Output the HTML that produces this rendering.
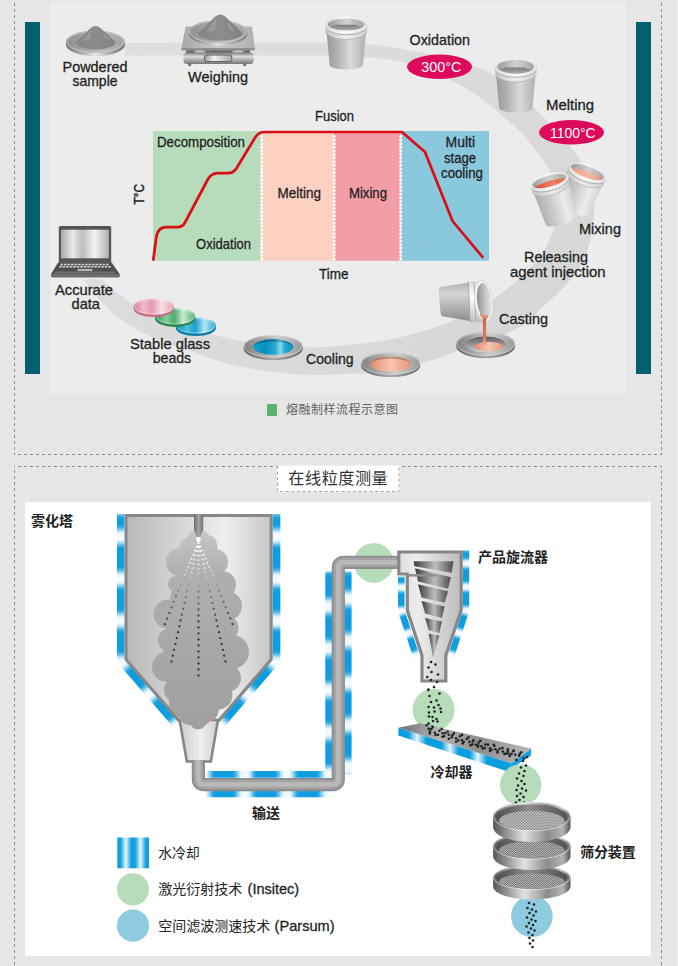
<!DOCTYPE html>
<html lang="zh"><head><meta charset="utf-8"><title>熔融制样流程示意图 / 在线粒度测量</title>
<style>
html,body{margin:0;padding:0}
body{width:678px;height:966px;overflow:hidden;background:#e6e6e6;position:relative;font-family:"Liberation Sans", "Noto Sans CJK SC", sans-serif;}
svg{position:absolute;left:0;top:0}
text{font-family:"Liberation Sans", "Noto Sans CJK SC", sans-serif;}
</style></head><body>
<svg width="678" height="966" viewBox="0 0 678 966">
<defs>

<linearGradient id="gMetalH" x1="0" x2="1" y1="0" y2="0"><stop offset="0" stop-color="#989898"/><stop offset=".3" stop-color="#b4b4b4"/><stop offset=".6" stop-color="#dadada"/><stop offset="1" stop-color="#adadad"/></linearGradient>
<linearGradient id="gMetalL" x1="0" x2="1" y1="0" y2="0"><stop offset="0" stop-color="#adadad"/><stop offset=".35" stop-color="#c9c9c9"/><stop offset=".72" stop-color="#ececec"/><stop offset="1" stop-color="#d2d2d2"/></linearGradient>
<linearGradient id="gRim2" x1="0" x2="1" y1="0" y2="0"><stop offset="0" stop-color="#c4c4c4"/><stop offset=".5" stop-color="#efefef"/><stop offset="1" stop-color="#cdcdcd"/></linearGradient>
<linearGradient id="gContent" x1="0" x2="0" y1="0" y2="1"><stop offset="0" stop-color="#7a7a7a"/><stop offset="1" stop-color="#adadad"/></linearGradient>
<linearGradient id="gOrange2" x1="0" x2="1" y1="0" y2="0"><stop offset="0" stop-color="#ec9f88"/><stop offset=".6" stop-color="#f3b9a4"/><stop offset="1" stop-color="#e8907a"/></linearGradient>
<linearGradient id="gRim" x1="0" x2="1" y1="0" y2="0"><stop offset="0" stop-color="#dadada"/><stop offset=".45" stop-color="#fafafa"/><stop offset="1" stop-color="#e2e2e2"/></linearGradient>
<linearGradient id="gInside" x1="0" x2="1" y1="0" y2="0"><stop offset="0" stop-color="#9a9a9a"/><stop offset=".5" stop-color="#d2d2d2"/><stop offset="1" stop-color="#a5a5a5"/></linearGradient>
<linearGradient id="gPlate" x1="0" x2="1" y1="0" y2="0"><stop offset="0" stop-color="#8e8e8e"/><stop offset=".6" stop-color="#b9b9b9"/><stop offset="1" stop-color="#a2a2a2"/></linearGradient>
<linearGradient id="gPlateEdge" x1="0" x2="1" y1="0" y2="0"><stop offset="0" stop-color="#707070"/><stop offset=".5" stop-color="#e6e6e6"/><stop offset="1" stop-color="#6e6e6e"/></linearGradient>
<linearGradient id="gRing" x1="0" x2="1" y1="0" y2="0"><stop offset="0" stop-color="#808080"/><stop offset=".3" stop-color="#a8a8a8"/><stop offset=".6" stop-color="#cdcdcd"/><stop offset="1" stop-color="#989898"/></linearGradient>
<linearGradient id="gRingEdge" x1="0" x2="1" y1="0" y2="0"><stop offset="0" stop-color="#626262"/><stop offset=".5" stop-color="#a8a8a8"/><stop offset="1" stop-color="#666"/></linearGradient>
<linearGradient id="gHole" x1="0" x2="0" y1="0" y2="1"><stop offset="0" stop-color="#5c5c5c"/><stop offset=".55" stop-color="#9a9a9a"/><stop offset="1" stop-color="#d2d2d2"/></linearGradient>
<linearGradient id="gBlueLiq" x1="0" x2="1" y1="0" y2="0"><stop offset="0" stop-color="#0f9fca"/><stop offset=".3" stop-color="#0a8fbb"/><stop offset=".55" stop-color="#25aad2"/><stop offset=".68" stop-color="#86dbef"/><stop offset=".8" stop-color="#22a8d1"/><stop offset="1" stop-color="#1192bd"/></linearGradient>
<linearGradient id="gPinkLiq" x1="0" x2="1" y1="0" y2="0"><stop offset="0" stop-color="#e48b70"/><stop offset=".5" stop-color="#f7c6b3"/><stop offset="1" stop-color="#e6937a"/></linearGradient>
<linearGradient id="gOrange" x1="0" x2="1" y1="0" y2="0"><stop offset="0" stop-color="#dd4f33"/><stop offset=".6" stop-color="#ec8265"/><stop offset="1" stop-color="#e3603f"/></linearGradient>
<linearGradient id="gBeadP" x1="0" x2="1" y1="0" y2="0"><stop offset="0" stop-color="#d67c95"/><stop offset=".25" stop-color="#f0bac8"/><stop offset=".45" stop-color="#e59ab0"/><stop offset=".7" stop-color="#fbe0e7"/><stop offset="1" stop-color="#e39ab0"/></linearGradient>
<linearGradient id="gBeadG" x1="0" x2="1" y1="0" y2="0"><stop offset="0" stop-color="#36955a"/><stop offset=".28" stop-color="#86cb98"/><stop offset=".48" stop-color="#4aab68"/><stop offset=".7" stop-color="#c9ebd4"/><stop offset="1" stop-color="#52b06f"/></linearGradient>
<linearGradient id="gBeadB" x1="0" x2="1" y1="0" y2="0"><stop offset="0" stop-color="#0d8bb9"/><stop offset=".28" stop-color="#4fbfdf"/><stop offset=".48" stop-color="#1a9dc8"/><stop offset=".72" stop-color="#b2e6f5"/><stop offset="1" stop-color="#259fca"/></linearGradient>
<linearGradient id="gScreen" x1="0" x2="1" y1="0" y2="0"><stop offset="0" stop-color="#a8a8a8"/><stop offset=".25" stop-color="#e9e9e9"/><stop offset=".45" stop-color="#bdbdbd"/><stop offset=".7" stop-color="#f4f4f4"/><stop offset="1" stop-color="#b0b0b0"/></linearGradient>
<linearGradient id="gScaleTop" x1="0" x2="1" y1="0" y2="0"><stop offset="0" stop-color="#a8a8a8"/><stop offset=".5" stop-color="#cacaca"/><stop offset="1" stop-color="#b0b0b0"/></linearGradient>
<linearGradient id="gDisp" x1="0" x2="1" y1="0" y2="0"><stop offset="0" stop-color="#9a9a9a"/><stop offset=".35" stop-color="#f2f2f2"/><stop offset="1" stop-color="#a8a8a8"/></linearGradient>
<linearGradient id="gScaleBase" x1="0" x2="0" y1="0" y2="1"><stop offset="0" stop-color="#7d7d7d"/><stop offset=".35" stop-color="#dcdcdc"/><stop offset="1" stop-color="#777"/></linearGradient>
<linearGradient id="gPowder" x1="0" x2="1" y1="0" y2="0"><stop offset="0" stop-color="#858585"/><stop offset=".5" stop-color="#8c8c8c"/><stop offset="1" stop-color="#808080"/></linearGradient>
<linearGradient id="gBand" x1="0" x2="1" y1="0" y2="0"><stop offset="0" stop-color="#e2e2e2"/><stop offset=".5" stop-color="#dbdbdb"/><stop offset="1" stop-color="#d6d6d6"/></linearGradient>

<linearGradient id="gBandV" gradientUnits="userSpaceOnUse" x1="100" y1="42" x2="500" y2="375"><stop offset="0" stop-color="#dfdfdf"/><stop offset="1" stop-color="#d7d7d7"/></linearGradient>
<linearGradient id="gPourBody" x1="0" x2="0" y1="0" y2="1"><stop offset="0" stop-color="#b0b0b0"/><stop offset=".3" stop-color="#d6d6d6"/><stop offset="1" stop-color="#8e8e8e"/></linearGradient>
<linearGradient id="gPourRim" x1="0" x2="0" y1="0" y2="1"><stop offset="0" stop-color="#dcdcdc"/><stop offset=".4" stop-color="#fff"/><stop offset="1" stop-color="#bdbdbd"/></linearGradient>
<linearGradient id="gStream" x1="0" x2="0" y1="0" y2="1"><stop offset="0" stop-color="#cf6248"/><stop offset=".7" stop-color="#d9775e"/><stop offset="1" stop-color="#eca590"/></linearGradient>
<linearGradient id="gPourIn" x1="0" x2="1" y1="0" y2="0.25"><stop offset="0" stop-color="#858585"/><stop offset=".55" stop-color="#bcbcbc"/><stop offset="1" stop-color="#e2e2e2"/></linearGradient>

<linearGradient id="gTower" x1="0" x2="1" y1="0" y2="0"><stop offset="0" stop-color="#b8b8b8"/><stop offset=".35" stop-color="#d4d4d4"/><stop offset=".68" stop-color="#efefef"/><stop offset="1" stop-color="#c6c6c6"/></linearGradient>
<linearGradient id="gFunnel" x1="0" x2="1" y1="0" y2="0"><stop offset="0" stop-color="#c9c9c9"/><stop offset=".55" stop-color="#f0f0f0"/><stop offset="1" stop-color="#cfcfcf"/></linearGradient>
<linearGradient id="gCloud" x1="0" x2="0" y1="0" y2="1"><stop offset="0" stop-color="#c2c2c2"/><stop offset=".3" stop-color="#b0b0b0"/><stop offset="1" stop-color="#a2a2a2"/></linearGradient>
<linearGradient id="gNozzle" x1="0" x2="1" y1="0" y2="0"><stop offset="0" stop-color="#6a6a6a"/><stop offset=".5" stop-color="#a5a5a5"/><stop offset="1" stop-color="#707070"/></linearGradient>
<linearGradient id="gCyc" x1="0" x2="1" y1="0" y2="0"><stop offset="0" stop-color="#dedede"/><stop offset=".3" stop-color="#ededed"/><stop offset="1" stop-color="#bcbcbc"/></linearGradient>
<linearGradient id="gCone" x1="0" x2="1" y1="0" y2="0"><stop offset="0" stop-color="#3a3a3a"/><stop offset=".55" stop-color="#bdbdbd"/><stop offset="1" stop-color="#4c4c4c"/></linearGradient>
<linearGradient id="gCoolTop" x1="0" x2="1" y1="0" y2="0"><stop offset="0" stop-color="#6e6e6e"/><stop offset=".3" stop-color="#b4b4b4"/><stop offset=".6" stop-color="#8e8e8e"/><stop offset="1" stop-color="#b6b6b6"/></linearGradient>
<linearGradient id="gSieveBand" x1="0" x2="1" y1="0" y2="0"><stop offset="0" stop-color="#585858"/><stop offset=".15" stop-color="#8a8a8a"/><stop offset=".4" stop-color="#e2e2e2"/><stop offset=".7" stop-color="#8c8c8c"/><stop offset=".9" stop-color="#b4b4b4"/><stop offset="1" stop-color="#565656"/></linearGradient>
<linearGradient id="gSieveIn" x1="0" x2="1" y1="0" y2="0"><stop offset="0" stop-color="#4c4c4c"/><stop offset=".45" stop-color="#8c8c8c"/><stop offset="1" stop-color="#505050"/></linearGradient>
<linearGradient id="gLegend" x1="0" x2="1" y1="0" y2="0"><stop offset="0" stop-color="#129fe0"/><stop offset=".1" stop-color="#129fe0"/><stop offset=".27" stop-color="#e9f6fd"/><stop offset=".44" stop-color="#129fe0"/><stop offset=".56" stop-color="#129fe0"/><stop offset=".73" stop-color="#e9f6fd"/><stop offset=".9" stop-color="#129fe0"/><stop offset="1" stop-color="#129fe0"/></linearGradient>
<filter id="fBlur" x="-5%" y="-5%" width="110%" height="110%"><feGaussianBlur stdDeviation="1.6"/></filter>
<pattern id="pMesh" width="3.1" height="2.8" patternUnits="userSpaceOnUse"><rect width="3.1" height="2.8" fill="#d2d2d2"/><circle cx=".8" cy=".7" r=".68" fill="#4f4f4f"/><circle cx="2.35" cy="2.1" r=".68" fill="#4f4f4f"/></pattern>
<pattern id="pMesh2" width="2.3" height="2" patternUnits="userSpaceOnUse"><rect width="2.3" height="2" fill="#c2c2c2"/><circle cx=".6" cy=".5" r=".55" fill="#505050"/><circle cx="1.75" cy="1.5" r=".55" fill="#505050"/></pattern>

<filter id="fBlurS" filterUnits="userSpaceOnUse" x="0" y="480" width="678" height="486"><feGaussianBlur stdDeviation="2.7"/></filter><filter id="fBlurC" filterUnits="userSpaceOnUse" x="0" y="480" width="678" height="486"><feGaussianBlur stdDeviation="1.7"/></filter>
<mask id="mw1" maskUnits="userSpaceOnUse" x="0" y="480" width="678" height="486"><rect x="0" y="480" width="678" height="486" fill="#000"/><path d="M120.7,514 L120.7,660.5 L175.5,724" fill="none" stroke="#fff" stroke-width="7.5"/></mask>
<mask id="mw2" maskUnits="userSpaceOnUse" x="0" y="480" width="678" height="486"><rect x="0" y="480" width="678" height="486" fill="#000"/><path d="M276.6,514 L276.6,660.5 L221.8,724" fill="none" stroke="#fff" stroke-width="7.5"/></mask>
<clipPath id="cTower"><path d="M127.5,517 L269.7,517 L269.7,659 L217.6,719.5 L213,760 L185,760 L180,719.5 L127.5,659 Z"/></clipPath>
<linearGradient id="gCloudU" gradientUnits="userSpaceOnUse" x1="0" y1="530" x2="0" y2="735"><stop offset="0" stop-color="#c6c6c6"/><stop offset=".22" stop-color="#afafaf"/><stop offset="1" stop-color="#9f9f9f"/></linearGradient>
<linearGradient id="gSprayW" gradientUnits="userSpaceOnUse" x1="0" y1="540" x2="0" y2="584"><stop offset="0" stop-color="#fff" stop-opacity="1"/><stop offset=".55" stop-color="#fff" stop-opacity=".85"/><stop offset="1" stop-color="#fff" stop-opacity="0"/></linearGradient>
<linearGradient id="gSprayD" gradientUnits="userSpaceOnUse" x1="0" y1="578" x2="0" y2="625"><stop offset="0" stop-color="#505050" stop-opacity="0"/><stop offset=".35" stop-color="#4a4a4a" stop-opacity=".55"/><stop offset="1" stop-color="#343434" stop-opacity="1"/></linearGradient>
<mask id="mw3" maskUnits="userSpaceOnUse" x="0" y="480" width="678" height="486"><rect x="0" y="480" width="678" height="486" fill="#000"/><path d="M205.5,774.4 L328.7,774.4 L328.7,571.5" fill="none" stroke="#fff" stroke-width="6.8"/></mask>
<mask id="mw4" maskUnits="userSpaceOnUse" x="0" y="480" width="678" height="486"><rect x="0" y="480" width="678" height="486" fill="#000"/><path d="M205.5,794 L329.5,794" fill="none" stroke="#fff" stroke-width="6.4"/></mask>
<mask id="mw5" maskUnits="userSpaceOnUse" x="0" y="480" width="678" height="486"><rect x="0" y="480" width="678" height="486" fill="#000"/><path d="M348,571.5 L348,775" fill="none" stroke="#fff" stroke-width="7.2"/></mask>
<mask id="mw6" maskUnits="userSpaceOnUse" x="0" y="480" width="678" height="486"><rect x="0" y="480" width="678" height="486" fill="#000"/><path d="M466,550.3 L466,610.5 L450.5,658" fill="none" stroke="#fff" stroke-width="6.4"/></mask>
<mask id="mw7" maskUnits="userSpaceOnUse" x="0" y="480" width="678" height="486"><rect x="0" y="480" width="678" height="486" fill="#000"/><path d="M401.3,576.5 L401.3,611 L417,658" fill="none" stroke="#fff" stroke-width="6.6"/></mask>
<linearGradient id="gCoolFront" gradientUnits="userSpaceOnUse" x1="398" y1="0" x2="512" y2="0"><stop offset="0" stop-color="#0a9de0"/><stop offset=".09" stop-color="#0a9de0"/><stop offset=".167" stop-color="#e6f5fd"/><stop offset=".25" stop-color="#0a9de0"/><stop offset=".38" stop-color="#0a9de0"/><stop offset=".456" stop-color="#e6f5fd"/><stop offset=".53" stop-color="#0a9de0"/><stop offset=".63" stop-color="#0a9de0"/><stop offset=".7" stop-color="#e6f5fd"/><stop offset=".78" stop-color="#0a9de0"/><stop offset="1" stop-color="#0a9de0"/></linearGradient>
<clipPath id="cS877"><ellipse cx="531.8" cy="878.0" rx="35.7" ry="10.799999999999999"/></clipPath>
<clipPath id="cS846"><ellipse cx="531.8" cy="846.7" rx="35.7" ry="11.6"/></clipPath>
<clipPath id="cS816"><ellipse cx="531.8" cy="817.2" rx="35.7" ry="12.799999999999999"/></clipPath>
</defs>
<rect x="50" y="2" width="576" height="392" fill="#ececec"/>
<rect x="25" y="22" width="15" height="352" fill="#035f6e"/>
<rect x="636" y="22" width="15" height="352" fill="#035f6e"/>
<path d="M125,42.5 L330,42.5 C335.0,42.7 350.8,43.0 360.0,43.6 C369.2,44.2 378.3,45.2 385.0,46.0 C391.7,46.8 390.8,46.8 400.0,48.5 C409.2,50.2 430.0,54.3 440.0,56.5 C450.0,58.7 453.3,59.8 460.0,61.8 C466.7,63.8 474.7,66.5 480.0,68.5 C485.3,70.5 487.0,71.0 492.0,74.0 C497.0,77.0 502.8,80.7 510.0,86.5 C517.2,92.3 526.2,100.4 535.0,109.0 C543.8,117.6 555.0,128.7 563.0,138.0 C571.0,147.3 578.0,155.8 583.0,165.0 C588.0,174.2 591.2,185.0 593.0,193.0 C594.8,201.0 594.2,206.5 594.0,213.0 C593.8,219.5 593.0,226.2 592.0,232.0 C591.0,237.8 590.2,241.8 588.0,248.0 C585.8,254.2 582.8,262.2 578.5,269.0 C574.2,275.8 568.2,282.5 562.0,289.0 C555.8,295.5 546.3,302.8 541.0,308.0 C535.7,313.2 534.4,316.9 530.0,320.5 C525.6,324.1 522.1,326.2 514.6,329.8 C507.1,333.4 494.8,338.4 485.0,342.0 C475.2,345.6 463.5,349.0 456.0,351.6 C448.5,354.2 445.7,355.8 440.0,357.7 C434.3,359.6 427.9,361.3 421.7,363.0 C415.5,364.7 410.5,366.4 403.0,368.0 C395.5,369.6 385.5,371.9 376.5,372.8 C367.5,373.8 358.0,373.3 349.0,373.7 C340.0,374.1 331.5,374.9 322.7,375.0 C313.9,375.1 304.9,374.8 296.0,374.2 C287.1,373.6 278.4,372.8 269.6,371.6 C260.8,370.4 251.8,368.9 243.0,367.0 C234.2,365.1 225.3,363.1 216.5,360.4 C207.7,357.7 198.2,353.8 190.0,351.0 C181.8,348.2 175.3,346.6 167.4,343.5 C159.5,340.4 149.5,335.9 142.6,332.5 C135.7,329.1 131.2,326.4 126.0,323.0 C120.8,319.6 116.1,316.0 111.6,312.0 C107.1,308.0 103.8,304.4 99.2,299.0 C94.6,293.6 86.3,282.7 83.7,279.4 L101.3,279.4 C104.0,281.7 113.0,289.2 117.8,293.0 C122.6,296.8 124.8,298.8 130.2,302.0 C135.6,305.2 143.4,309.3 150.0,312.5 C156.6,315.7 163.3,318.4 170.0,321.0 C176.7,323.6 182.2,325.6 190.0,328.0 C197.8,330.4 207.7,333.0 216.5,335.2 C225.3,337.4 233.2,339.6 243.0,341.3 C252.8,343.0 264.4,344.5 275.0,345.5 C285.6,346.5 298.5,346.9 306.8,347.2 C315.1,347.4 317.8,347.4 325.0,347.0 C332.2,346.6 341.4,345.7 350.0,344.8 C358.6,343.9 367.7,343.2 376.5,341.8 C385.3,340.4 392.4,339.2 403.0,336.5 C413.6,333.8 428.8,329.7 440.0,325.8 C451.2,321.9 461.7,317.0 470.0,313.0 C478.3,309.0 484.5,305.5 490.0,302.0 C495.5,298.5 498.6,295.5 503.0,292.0 C507.4,288.5 511.2,285.9 516.5,281.0 C521.8,276.1 529.8,268.8 535.0,262.6 C540.2,256.4 544.4,249.8 547.5,244.0 C550.6,238.2 552.2,234.8 553.7,227.5 C555.2,220.2 556.5,207.8 556.5,200.0 C556.5,192.2 556.0,187.2 554.0,181.0 C552.0,174.8 549.8,170.2 544.6,162.5 C539.4,154.8 531.8,143.8 523.0,134.6 C514.2,125.3 500.8,114.3 492.0,107.0 C483.2,99.7 477.2,95.7 470.0,91.0 C462.8,86.3 456.9,83.0 448.6,79.0 C440.3,75.0 430.6,70.3 420.0,67.0 C409.4,63.7 400.0,60.9 385.0,59.0 C370.0,57.1 339.2,56.1 330.0,55.5 L125,55.5 Z" fill="url(#gBandV)"/>
<rect x="153" y="131" width="108.5" height="129.8" fill="#b7dcbb"/>
<rect x="261.5" y="131" width="72.5" height="129.8" fill="#fbd1c1"/>
<rect x="334" y="131" width="66.5" height="129.8" fill="#f39da7"/>
<rect x="400.5" y="131" width="88.5" height="129.8" fill="#8ac8dd"/>
<line x1="261.7" y1="136.5" x2="261.7" y2="260" stroke="#fff" stroke-width="3" stroke-linecap="round" stroke-dasharray="0 3.6"/>
<line x1="334.2" y1="136.5" x2="334.2" y2="260" stroke="#fff" stroke-width="3" stroke-linecap="round" stroke-dasharray="0 3.6"/>
<line x1="400.7" y1="136.5" x2="400.7" y2="260" stroke="#fff" stroke-width="3" stroke-linecap="round" stroke-dasharray="0 3.6"/>
<path d="M153.3,259.5 L156.2,238 Q157.6,227.3 166,227.2 L177,227.2 Q182.5,227 185,222.5 L207.5,180 Q211,173.2 217.5,173.2 L228,173.2 Q233.5,173.2 236.5,168.3 L255.5,137 Q258.6,132 264.5,132 L402,132 L425,152 L452.5,221 L482.5,257" fill="none" stroke="#dc0d15" stroke-width="2.7" stroke-linejoin="round" stroke-linecap="round"/>
<text x="157" y="147" font-size="14.4" fill="#1f1f1f" stroke="#1f1f1f" stroke-width="0.3" text-anchor="start" font-weight="normal" textLength="88" lengthAdjust="spacingAndGlyphs" >Decomposition</text>
<text x="196" y="249" font-size="14.4" fill="#1f1f1f" stroke="#1f1f1f" stroke-width="0.3" text-anchor="start" font-weight="normal" textLength="55" lengthAdjust="spacingAndGlyphs" >Oxidation</text>
<text x="277.5" y="197.5" font-size="14.4" fill="#1f1f1f" stroke="#1f1f1f" stroke-width="0.3" text-anchor="start" font-weight="normal" textLength="43.5" lengthAdjust="spacingAndGlyphs" >Melting</text>
<text x="349" y="197.5" font-size="14.4" fill="#1f1f1f" stroke="#1f1f1f" stroke-width="0.3" text-anchor="start" font-weight="normal" textLength="38" lengthAdjust="spacingAndGlyphs" >Mixing</text>
<text x="315" y="121" font-size="14.4" fill="#1f1f1f" stroke="#1f1f1f" stroke-width="0.3" text-anchor="start" font-weight="normal" textLength="39" lengthAdjust="spacingAndGlyphs" >Fusion</text>
<text x="319" y="279" font-size="14.4" fill="#1f1f1f" stroke="#1f1f1f" stroke-width="0.3" text-anchor="start" font-weight="normal" textLength="29.5" lengthAdjust="spacingAndGlyphs" >Time</text>
<text x="445.5" y="147" font-size="14.4" fill="#1f1f1f" stroke="#1f1f1f" stroke-width="0.3" text-anchor="start" font-weight="normal" textLength="29.5" lengthAdjust="spacingAndGlyphs" >Multi</text>
<text x="444" y="162.5" font-size="14.4" fill="#1f1f1f" stroke="#1f1f1f" stroke-width="0.3" text-anchor="start" font-weight="normal" textLength="32" lengthAdjust="spacingAndGlyphs" >stage</text>
<text x="441" y="178" font-size="14.4" fill="#1f1f1f" stroke="#1f1f1f" stroke-width="0.3" text-anchor="start" font-weight="normal" textLength="42" lengthAdjust="spacingAndGlyphs" >cooling</text>
<g transform="translate(143.5,204.5) rotate(-90)"><text x="0" y="0" font-size="14.4" fill="#1f1f1f" stroke="#1f1f1f" stroke-width="0.45" text-anchor="start" font-weight="normal" textLength="20.5" lengthAdjust="spacingAndGlyphs" >T°C</text></g>
<path d="M66.0,41.8 L66.0,44.8 A29.5,11.2 0 0 0 125.0,44.8 L125.0,41.8 Z" fill="url(#gPlateEdge)"/><ellipse cx="95.5" cy="41.8" rx="29.5" ry="11.2" fill="url(#gPlate)"/><ellipse cx="95.5" cy="41.8" rx="28.5" ry="10.399999999999999" fill="none" stroke="#d4d4d4" stroke-width=".9" opacity=".8"/>
<path d="M75.6,42 Q83.6,35.028 90.6,27.9 Q96.6,23.4 101.6,28.9 Q108.0,34.53 115.6,42 A20,7.5 0 0 1 75.6,42 Z" fill="url(#gPowder)"/><path d="M91.6,29.4 L81.6,41 L90.6,39 Z" fill="#a9a9a9" opacity=".55"/><path d="M102.6,31.4 L110.6,41 L104.6,38.5 Z" fill="#a9a9a9" opacity=".55"/>
<text x="62.5" y="72" font-size="14.4" fill="#1f1f1f" stroke="#1f1f1f" stroke-width="0.3" text-anchor="start" font-weight="normal" textLength="65" lengthAdjust="spacingAndGlyphs" >Powdered</text>
<text x="72.5" y="86" font-size="14.4" fill="#1f1f1f" stroke="#1f1f1f" stroke-width="0.3" text-anchor="start" font-weight="normal" textLength="45" lengthAdjust="spacingAndGlyphs" >sample</text>
<path d="M185.6,26.4 L252,26.4 L254.8,48 L254.8,50.2 L181.5,50.2 L181.5,48 Z" fill="url(#gScaleTop)"/>
<path d="M181.5,48 L254.8,48 L254.8,50.2 L181.5,50.2 Z" fill="#909090"/>
<rect x="186" y="50.2" width="64" height="3" fill="#6a6a6a"/><ellipse cx="200" cy="51.8" rx="6" ry="1.5" fill="#c4c4c4"/><ellipse cx="238" cy="51.8" rx="6" ry="1.5" fill="#c4c4c4"/>
<rect x="183.5" y="52.6" width="70" height="11.3" rx="3.5" fill="url(#gScaleBase)"/>
<rect x="204.5" y="55" width="27.3" height="6.6" rx="2.2" fill="url(#gDisp)" stroke="#5c5c5c" stroke-width="1"/>
<rect x="188.2" y="63.8" width="3" height="2.2" fill="#707070"/><rect x="243.2" y="63.8" width="3" height="2.2" fill="#707070"/>
<path d="M188.9,31.8 L188.9,33.8 A29.2,11.5 0 0 0 247.29999999999998,33.8 L247.29999999999998,31.8 Z" fill="url(#gPlateEdge)"/><ellipse cx="218.1" cy="31.8" rx="29.2" ry="11.5" fill="url(#gPlate)"/><ellipse cx="218.1" cy="31.8" rx="28.2" ry="10.7" fill="none" stroke="#d4d4d4" stroke-width=".9" opacity=".8"/>
<path d="M197.79999999999998,33 Q206.76,25.02 215.2,16.5 Q221.2,12 226.2,17.5 Q234.088,24.45 242.6,33 A22.4,7.6 0 0 1 197.79999999999998,33 Z" fill="url(#gPowder)"/><path d="M216.2,18 L206.2,32 L215.2,30 Z" fill="#a9a9a9" opacity=".55"/><path d="M227.2,20 L235.2,32 L229.2,29.5 Z" fill="#a9a9a9" opacity=".55"/>
<text x="188" y="82" font-size="14.4" fill="#1f1f1f" stroke="#1f1f1f" stroke-width="0.3" text-anchor="start" font-weight="normal" textLength="60" lengthAdjust="spacingAndGlyphs" >Weighing</text>
<g transform="translate(346.3,25.3) rotate(0) scale(1.0)"><path d="M-20,4 L-16.6,40 A16.6,4.2 0 0 0 16.6,40 L20,4 Z" fill="url(#gMetalH)"/><path d="M-20.5,1 L-20.5,5.6 A20.5,8.6 0 0 0 20.5,5.6 L20.5,1 Z" fill="url(#gRim2)"/><path d="M-20.5,5.6 A20.5,8.6 0 0 0 20.5,5.6" fill="none" stroke="#9d9d9d" stroke-width=".7" opacity=".7"/><path d="M-21,0 L-21,1 A21,8.9 0 0 0 21,1 L21,0 Z" fill="#ababab"/><ellipse cx="0" cy="0" rx="21" ry="8.9" fill="url(#gRim)"/><ellipse cx="-0.1" cy="-0.9" rx="18.2" ry="5.9" fill="url(#gInside)"/><path d="M-15.8,2.1 L-14.6,1.0 L-10.5,-0.6 L8.5,-0.6 L10.5,0.3 L15.3,1.6 L15.8,2.1 A18.2,5.9 0 0 1 -15.8,2.1 Z" fill="url(#gContent)"/></g>
<g transform="translate(515.8,67.8) rotate(0) scale(1.0)"><path d="M-20,4 L-16.6,40.5 A16.6,4.2 0 0 0 16.6,40.5 L20,4 Z" fill="url(#gMetalH)"/><path d="M-20.5,1 L-20.5,5.6 A20.5,8.6 0 0 0 20.5,5.6 L20.5,1 Z" fill="url(#gRim2)"/><path d="M-20.5,5.6 A20.5,8.6 0 0 0 20.5,5.6" fill="none" stroke="#9d9d9d" stroke-width=".7" opacity=".7"/><path d="M-21,0 L-21,1 A21,8.9 0 0 0 21,1 L21,0 Z" fill="#ababab"/><ellipse cx="0" cy="0" rx="21" ry="8.9" fill="url(#gRim)"/><ellipse cx="-0.1" cy="-1.1" rx="18.2" ry="6.9" fill="url(#gInside)"/><path d="M-15.8,2.4 L-14.6,1.2 L-10.5,-0.4 L8.5,-0.4 L10.5,0.6 L15.3,1.9 L15.8,2.4 A18.2,6.9 0 0 1 -15.8,2.4 Z" fill="url(#gContent)"/></g>
<text x="409.5" y="45" font-size="14.4" fill="#1f1f1f" stroke="#1f1f1f" stroke-width="0.3" text-anchor="start" font-weight="normal" textLength="60.5" lengthAdjust="spacingAndGlyphs" >Oxidation</text>
<ellipse cx="439.5" cy="66.8" rx="32.5" ry="12.2" fill="#de0a5c"/>
<text x="441.3" y="72" font-size="15" fill="#fff" stroke="#fff" stroke-width="0" text-anchor="middle" font-weight="normal" textLength="40" lengthAdjust="spacingAndGlyphs" >300°C</text>
<text x="546" y="110" font-size="14.4" fill="#1f1f1f" stroke="#1f1f1f" stroke-width="0.3" text-anchor="start" font-weight="normal" textLength="48" lengthAdjust="spacingAndGlyphs" >Melting</text>
<ellipse cx="571.5" cy="132.3" rx="32.5" ry="12.2" fill="#de0a5c"/>
<text x="572.8" y="137.5" font-size="15" fill="#fff" stroke="#fff" stroke-width="0" text-anchor="middle" font-weight="normal" textLength="45.7" lengthAdjust="spacingAndGlyphs" >1100°C</text>
<g transform="translate(587.2,172.8) rotate(20) scale(0.95)"><path d="M-20,4 L-16.6,41 A16.6,4.2 0 0 0 16.6,41 L20,4 Z" fill="url(#gMetalL)"/><path d="M-20.5,1 L-20.5,5.6 A20.5,8.6 0 0 0 20.5,5.6 L20.5,1 Z" fill="url(#gRim2)"/><path d="M-20.5,5.6 A20.5,8.6 0 0 0 20.5,5.6" fill="none" stroke="#9d9d9d" stroke-width=".7" opacity=".7"/><path d="M-21,0 L-21,1 A21,8.9 0 0 0 21,1 L21,0 Z" fill="#ababab"/><ellipse cx="0" cy="0" rx="21" ry="8.9" fill="url(#gRim)"/><ellipse cx="-0.1" cy="-0.9" rx="18.2" ry="5.9" fill="url(#gInside)"/><path d="M-17,1.1 Q0,-4.2 17,1.1 A18.1,5.9 0 0 1 -17,1.1 Z" fill="url(#gOrange2)"/></g>
<g transform="translate(549.7,181.8) rotate(-16) scale(0.94)"><path d="M-20,4 L-16.6,43 A16.6,4.2 0 0 0 16.6,43 L20,4 Z" fill="url(#gMetalL)"/><path d="M-20.5,1 L-20.5,5.6 A20.5,8.6 0 0 0 20.5,5.6 L20.5,1 Z" fill="url(#gRim2)"/><path d="M-20.5,5.6 A20.5,8.6 0 0 0 20.5,5.6" fill="none" stroke="#9d9d9d" stroke-width=".7" opacity=".7"/><path d="M-21,0 L-21,1 A21,8.9 0 0 0 21,1 L21,0 Z" fill="#ababab"/><ellipse cx="0" cy="0" rx="21" ry="8.9" fill="url(#gRim)"/><ellipse cx="-0.1" cy="-0.9" rx="18.2" ry="5.9" fill="url(#gInside)"/><path d="M-17,1.1 Q0,-3.6 17,1.1 A18.1,5.9 0 0 1 -17,1.1 Z" fill="url(#gOrange)"/></g>
<text x="579" y="234" font-size="14.4" fill="#1f1f1f" stroke="#1f1f1f" stroke-width="0.3" text-anchor="start" font-weight="normal" textLength="42" lengthAdjust="spacingAndGlyphs" >Mixing</text>
<text x="524" y="262" font-size="14.4" fill="#1f1f1f" stroke="#1f1f1f" stroke-width="0.3" text-anchor="start" font-weight="normal" textLength="64" lengthAdjust="spacingAndGlyphs" >Releasing</text>
<text x="510" y="277" font-size="14.4" fill="#1f1f1f" stroke="#1f1f1f" stroke-width="0.3" text-anchor="start" font-weight="normal" textLength="95.5" lengthAdjust="spacingAndGlyphs" >agent injection</text>
<path d="M440.5,287 Q438.2,288 438.6,291 L440.6,313.5 Q441,316 443.5,316.5 L470,321 L470,282.5 Z" fill="url(#gPourBody)"/>
<path d="M468,281.5 L480,281 L488,321.5 L470,322.5 Z" fill="url(#gPourRim)"/>
<line x1="473.8" y1="281.3" x2="475.8" y2="322" stroke="#a8a8a8" stroke-width=".9"/><line x1="468.3" y1="281.6" x2="470.2" y2="322.4" stroke="#a0a0a0" stroke-width=".9"/>
<ellipse cx="483.8" cy="301" rx="9.3" ry="20.6" transform="rotate(-7 483.8 301)" fill="#f6f6f6" stroke="#c6c6c6" stroke-width=".6"/>
<ellipse cx="484.3" cy="301" rx="7.3" ry="18" transform="rotate(-7 484.3 301)" fill="url(#gPourIn)"/>
<path d="M456.3,344 L456.3,346.2 A29.4,12 0 0 0 515.1,346.2 L515.1,344 Z" fill="url(#gRingEdge)"/><ellipse cx="485.7" cy="344" rx="29.4" ry="12" fill="url(#gRing)"/><ellipse cx="485.7" cy="344" rx="28.7" ry="11.4" fill="none" stroke="#e0e0e0" stroke-width=".8" opacity=".7"/><ellipse cx="485.7" cy="344.4" rx="20.1" ry="7.8" fill="url(#gHole)"/>
<ellipse cx="489" cy="346.6" rx="14" ry="4.6" fill="url(#gPinkLiq)"/>
<path d="M480.5,315.5 Q483.2,318 482.8,322 L483,345 L486.3,345 L486,322 Q486.3,318.5 487.5,316.5 Z" fill="url(#gStream)"/>
<path d="M479.5,312 Q485,318.5 488.5,314 L487.5,317.5 Q484,320 480.5,316.5 Z" fill="#e58a70"/>
<text x="499" y="324.4" font-size="14.4" fill="#1f1f1f" stroke="#1f1f1f" stroke-width="0.3" text-anchor="start" font-weight="normal" textLength="49" lengthAdjust="spacingAndGlyphs" >Casting</text>
<path d="M361.2,363.6 L361.2,365.8 A29.5,11.3 0 0 0 420.2,365.8 L420.2,363.6 Z" fill="url(#gRingEdge)"/><ellipse cx="390.7" cy="363.6" rx="29.5" ry="11.3" fill="url(#gRing)"/><ellipse cx="390.7" cy="363.6" rx="28.8" ry="10.700000000000001" fill="none" stroke="#e0e0e0" stroke-width=".8" opacity=".7"/><ellipse cx="390.7" cy="364.0" rx="20.1" ry="7.8" fill="url(#gPinkLiq)"/><path d="M370.59999999999997,364.0 A20.1,7.8 0 0 1 410.8,364.0 A20.1,5.199999999999999 0 0 0 370.59999999999997,364.0 Z" fill="#000" opacity=".22"/>
<path d="M243.7,346.5 L243.7,348.7 A29.5,11.3 0 0 0 302.7,348.7 L302.7,346.5 Z" fill="url(#gRingEdge)"/><ellipse cx="273.2" cy="346.5" rx="29.5" ry="11.3" fill="url(#gRing)"/><ellipse cx="273.2" cy="346.5" rx="28.8" ry="10.700000000000001" fill="none" stroke="#e0e0e0" stroke-width=".8" opacity=".7"/><ellipse cx="273.2" cy="346.9" rx="20.1" ry="7.8" fill="url(#gBlueLiq)"/><path d="M253.1,346.9 A20.1,7.8 0 0 1 293.3,346.9 A20.1,5.199999999999999 0 0 0 253.1,346.9 Z" fill="#000" opacity=".22"/>
<text x="306" y="364" font-size="14.4" fill="#1f1f1f" stroke="#1f1f1f" stroke-width="0.3" text-anchor="start" font-weight="normal" textLength="47.7" lengthAdjust="spacingAndGlyphs" >Cooling</text>
<path d="M175.8,325.8 L175.8,328.0 A20.1,8.1 0 0 0 216.0,328.0 L216.0,325.8 Z" fill="#0c7aa6"/><ellipse cx="195.9" cy="325.8" rx="20.1" ry="8.1" fill="url(#gBeadB)"/><ellipse cx="195.9" cy="325.8" rx="18.8" ry="7.1" fill="none" stroke="#fff" stroke-opacity=".45" stroke-width=".8"/>
<path d="M155.0,316.6 L155.0,318.8 A20.1,8.1 0 0 0 195.2,318.8 L195.2,316.6 Z" fill="#2c864b"/><ellipse cx="175.1" cy="316.6" rx="20.1" ry="8.1" fill="url(#gBeadG)"/><ellipse cx="175.1" cy="316.6" rx="18.8" ry="7.1" fill="none" stroke="#fff" stroke-opacity=".45" stroke-width=".8"/>
<path d="M133.70000000000002,306.8 L133.70000000000002,309.0 A20.1,8.1 0 0 0 173.9,309.0 L173.9,306.8 Z" fill="#c56d87"/><ellipse cx="153.8" cy="306.8" rx="20.1" ry="8.1" fill="url(#gBeadP)"/><ellipse cx="153.8" cy="306.8" rx="18.8" ry="7.1" fill="none" stroke="#fff" stroke-opacity=".45" stroke-width=".8"/>
<text x="130" y="348.6" font-size="14.4" fill="#1f1f1f" stroke="#1f1f1f" stroke-width="0.3" text-anchor="start" font-weight="normal" textLength="80" lengthAdjust="spacingAndGlyphs" >Stable glass</text>
<text x="152.7" y="363.4" font-size="14.4" fill="#1f1f1f" stroke="#1f1f1f" stroke-width="0.3" text-anchor="start" font-weight="normal" textLength="38.5" lengthAdjust="spacingAndGlyphs" >beads</text>
<rect x="58.8" y="225.9" width="52.4" height="36.8" rx="1.5" fill="#555"/>
<rect x="60.9" y="229.7" width="47.9" height="28.6" fill="url(#gScreen)"/>
<path d="M58.3,262.3 L111.5,262.3 L119.6,274 L119.6,276.2 Q119.6,277.3 118,277.3 L52.6,277.3 Q51,277.3 51,276.2 L51,274 Z" fill="#4f4f4f"/>
<path d="M51,274 L119.6,274 L119.6,276.2 Q119.6,277.3 118,277.3 L52.6,277.3 Q51,277.3 51,276.2 Z" fill="#6d6d6d"/>
<path d="M61.5,264 L108.3,264 L112.5,270 L57.3,270 Z" fill="none" stroke="#cfcfcf" stroke-width="3.6" stroke-dasharray="2.2 1" stroke-linejoin="miter" opacity="0"/>
<line x1="60.5" y1="264.5" x2="109.5" y2="264.5" stroke="#d6d6d6" stroke-width="1.5" stroke-dasharray="2.6 .9"/>
<line x1="59.2" y1="266.8" x2="111" y2="266.8" stroke="#d6d6d6" stroke-width="1.5" stroke-dasharray="2.6 .9"/>
<rect x="77.6" y="268.9" width="14.8" height="2.2" fill="#b5b5b5"/><path d="M56,271.5 L114.5,271.5 L116.5,273.6 L54,273.6 Z" fill="#8a8a8a" opacity=".55"/>
<text x="55" y="294.7" font-size="14.4" fill="#1f1f1f" stroke="#1f1f1f" stroke-width="0.3" text-anchor="start" font-weight="normal" textLength="58" lengthAdjust="spacingAndGlyphs" >Accurate</text>
<text x="71.5" y="309" font-size="14.4" fill="#1f1f1f" stroke="#1f1f1f" stroke-width="0.3" text-anchor="start" font-weight="normal" textLength="28.5" lengthAdjust="spacingAndGlyphs" >data</text>
<rect x="267" y="404" width="10" height="12" fill="#5cb173"/>
<text x="286" y="414.3" font-size="12" fill="#5f5f5f" font-family="'Liberation Sans', 'Noto Sans CJK SC', sans-serif" textLength="112" lengthAdjust="spacing">熔融制样流程示意图</text>
<path d="M14.5,3 V455 M661.5,3 V455" stroke="#8e8e8e" stroke-width="1" stroke-dasharray="3 3" fill="none" shape-rendering="crispEdges"/>
<path d="M14,454.5 H662 M14,466.5 H662" stroke="#8e8e8e" stroke-width="1" stroke-dasharray="3 3" fill="none" shape-rendering="crispEdges" stroke-dashoffset="2"/>
<path d="M14.5,466 V969 M661.5,466 V969" stroke="#8e8e8e" stroke-width="1" stroke-dasharray="3 3" fill="none" shape-rendering="crispEdges" stroke-dashoffset="2"/>
<rect x="277" y="465.6" width="122.5" height="26.2" fill="#fff"/>
<path d="M277.5,466 V491.5 H399 V466" fill="none" stroke="#b39e9e" stroke-width="1" stroke-dasharray="3 2.6"/>
<text x="288.3" y="484.4" font-size="16.2" fill="#333" font-family="'Liberation Sans', 'Noto Sans CJK SC', sans-serif" textLength="99.5" lengthAdjust="spacing">在线粒度测量</text>
<rect x="677" y="0" width="1" height="966" fill="#f1f1f1"/>
<rect x="25" y="502" width="626" height="454" fill="#fff"/>
<g mask="url(#mw1)"><path d="M120.7,514 L120.7,660.5 L175.5,724" fill="none" stroke="#f4fbff" stroke-width="11.5"/><path d="M120.7,514 L120.7,660.5 L175.5,724" fill="none" stroke="#0a9de0" stroke-width="23.5" stroke-dasharray="27.5 14.5" stroke-dashoffset="12" stroke-linejoin="round" filter="url(#fBlurS)"/></g>
<g mask="url(#mw2)"><path d="M276.6,514 L276.6,660.5 L221.8,724" fill="none" stroke="#f4fbff" stroke-width="11.5"/><path d="M276.6,514 L276.6,660.5 L221.8,724" fill="none" stroke="#0a9de0" stroke-width="23.5" stroke-dasharray="27.5 14.5" stroke-dashoffset="12" stroke-linejoin="round" filter="url(#fBlurS)"/></g>
<path d="M126,515.5 L271.2,515.5 L271.2,659.5 L218.3,721 L179.3,721 L126,659.5 Z" fill="url(#gTower)" stroke="#878787" stroke-width="3" stroke-linejoin="miter"/>
<g clip-path="url(#cTower)" fill="url(#gCloudU)"><circle cx="198.5" cy="542" r="12.5"/><circle cx="188.5" cy="547" r="9"/><circle cx="208.5" cy="547" r="9"/><circle cx="198.5" cy="545" r="11"/><circle cx="198" cy="570" r="20"/><circle cx="198" cy="600" r="28"/><circle cx="198" cy="630" r="32"/><circle cx="198" cy="660" r="36"/><circle cx="198" cy="690" r="28"/><circle cx="198" cy="712" r="15"/><circle cx="198" cy="721" r="8.5"/><circle cx="180" cy="562" r="14"/><circle cx="176" cy="584" r="8"/><circle cx="168" cy="614" r="14.5"/><circle cx="170" cy="640" r="12"/><circle cx="167" cy="667" r="15"/><circle cx="176" cy="690" r="12"/><circle cx="182" cy="704" r="13"/><circle cx="190" cy="714" r="11"/><circle cx="207" cy="545" r="10"/><circle cx="215" cy="562" r="13"/><circle cx="222" cy="585" r="14"/><circle cx="227" cy="606" r="15"/><circle cx="226" cy="628" r="12.5"/><circle cx="232" cy="652" r="17"/><circle cx="227" cy="678" r="14"/><circle cx="218" cy="695" r="14.5"/><circle cx="207" cy="710" r="11.5"/></g>
<path d="M179.6,720 L218,720 L210.8,761.5 L186.8,761.5 Z" fill="url(#gFunnel)" stroke="#878787" stroke-width="2.6" stroke-linejoin="miter"/>
<g clip-path="url(#cTower)" fill="url(#gCloudU)"><circle cx="198" cy="712" r="15"/><circle cx="198" cy="721" r="8.5"/><circle cx="182" cy="704" r="13"/><circle cx="190" cy="714" r="11"/><circle cx="207" cy="710" r="11.5"/></g>
<path d="M194,514 L203.2,514 L203.2,529.5 L200,537 L197.2,537 L194,529.5 Z" fill="url(#gNozzle)"/>
<line x1="198.5" y1="542.5" x2="180.3" y2="585.5" stroke="url(#gSprayW)" stroke-width="1.9" stroke-linecap="round" stroke-dasharray="0 4.4"/>
<line x1="182.6" y1="579.5" x2="163.0" y2="629.0" stroke="url(#gSprayD)" stroke-width="2.3" stroke-linecap="round" stroke-dasharray="0 6"/>
<line x1="198.5" y1="542.5" x2="188.3" y2="585.5" stroke="url(#gSprayW)" stroke-width="1.9" stroke-linecap="round" stroke-dasharray="0 4.4"/>
<line x1="189.7" y1="579.5" x2="171.0" y2="664.0" stroke="url(#gSprayD)" stroke-width="2.3" stroke-linecap="round" stroke-dasharray="0 6"/>
<line x1="198.5" y1="542.5" x2="198.5" y2="585.5" stroke="url(#gSprayW)" stroke-width="1.9" stroke-linecap="round" stroke-dasharray="0 4.4"/>
<line x1="198.5" y1="579.5" x2="198.5" y2="676.0" stroke="url(#gSprayD)" stroke-width="2.3" stroke-linecap="round" stroke-dasharray="0 6"/>
<line x1="198.5" y1="542.5" x2="208.7" y2="585.5" stroke="url(#gSprayW)" stroke-width="1.9" stroke-linecap="round" stroke-dasharray="0 4.4"/>
<line x1="207.3" y1="579.5" x2="226.0" y2="664.0" stroke="url(#gSprayD)" stroke-width="2.3" stroke-linecap="round" stroke-dasharray="0 6"/>
<line x1="198.5" y1="542.5" x2="217.0" y2="585.5" stroke="url(#gSprayW)" stroke-width="1.9" stroke-linecap="round" stroke-dasharray="0 4.4"/>
<line x1="214.6" y1="579.5" x2="234.5" y2="629.0" stroke="url(#gSprayD)" stroke-width="2.3" stroke-linecap="round" stroke-dasharray="0 6"/>
<circle cx="198.5" cy="539.3" r="2.3" fill="#fff"/>
<g mask="url(#mw3)"><path d="M205.5,774.4 L328.7,774.4 L328.7,571.5" fill="none" stroke="#f4fbff" stroke-width="10.8"/><path d="M205.5,774.4 L328.7,774.4 L328.7,571.5" fill="none" stroke="#0a9de0" stroke-width="22.8" stroke-dasharray="27.5 14.5" stroke-dashoffset="-4.5" stroke-linejoin="round" filter="url(#fBlurS)"/></g>
<g mask="url(#mw4)"><path d="M205.5,794 L329.5,794" fill="none" stroke="#f4fbff" stroke-width="10.4"/><path d="M205.5,794 L329.5,794" fill="none" stroke="#0a9de0" stroke-width="22.4" stroke-dasharray="27.5 14.5" stroke-dashoffset="-4.5" stroke-linejoin="round" filter="url(#fBlurS)"/></g>
<g mask="url(#mw5)"><path d="M348,571.5 L348,775" fill="none" stroke="#f4fbff" stroke-width="11.2"/><path d="M348,571.5 L348,775" fill="none" stroke="#0a9de0" stroke-width="23.2" stroke-dasharray="27.5 14.5" stroke-dashoffset="7.5" stroke-linejoin="round" filter="url(#fBlurS)"/></g>
<circle cx="373.8" cy="562.8" r="19.9" fill="#b7dcb9"/>
<path d="M198.4,760 L198.4,779 Q198.4,784.6 204,784.6 L332.7,784.6 Q338.3,784.6 338.3,779 L338.3,568 Q338.3,562.3 344,562.3 L399,562.3" fill="none" stroke="#8c8c8c" stroke-width="13.2" stroke-linejoin="round"/>
<path d="M198.4,760 L198.4,779 Q198.4,784.6 204,784.6 L332.7,784.6 Q338.3,784.6 338.3,779 L338.3,568 Q338.3,562.3 344,562.3 L399,562.3" fill="none" stroke="#a4a4a4" stroke-width="9.5" stroke-linejoin="round"/>
<path d="M198.4,760 L198.4,779 Q198.4,784.6 204,784.6 L332.7,784.6 Q338.3,784.6 338.3,779 L338.3,568 Q338.3,562.3 344,562.3 L399,562.3" fill="none" stroke="#b9b9b9" stroke-width="4.5" stroke-linejoin="round"/>
<g mask="url(#mw6)"><path d="M466,550.3 L466,610.5 L450.5,658" fill="none" stroke="#f4fbff" stroke-width="10.4"/><path d="M466,550.3 L466,610.5 L450.5,658" fill="none" stroke="#0a9de0" stroke-width="22.4" stroke-dasharray="15.5 8" stroke-dashoffset="6.2" stroke-linejoin="round" filter="url(#fBlurC)"/></g>
<g mask="url(#mw7)"><path d="M401.3,576.5 L401.3,611 L417,658" fill="none" stroke="#f4fbff" stroke-width="10.6"/><path d="M401.3,576.5 L401.3,611 L417,658" fill="none" stroke="#0a9de0" stroke-width="22.6" stroke-dasharray="15.5 8" stroke-dashoffset="8.5" stroke-linejoin="round" filter="url(#fBlurC)"/></g>
<path d="M398.8,552 L461.2,552 L461.2,610 L445.8,655.5 L445.8,681 L422,681 L422,655.5 L407.3,610.5 L407.3,574 L398.8,574 Z" fill="url(#gCyc)" stroke="#878787" stroke-width="3.2" stroke-linejoin="miter"/>
<path d="M413.6,561.2 L453.5,561.2 L451.7,572.7 L414.5,566.2 Z" fill="url(#gCone)"/>
<path d="M415,568.3 L450.8,577.2 L448.1,588.7 L418,581.6 Z" fill="url(#gCone)"/>
<path d="M418,584.2 L448.1,591.3 L444.6,602.8 L421.6,597.5 Z" fill="url(#gCone)"/>
<path d="M421.6,601 L444.6,606.4 L441.9,617.9 L425.1,613.5 Z" fill="url(#gCone)"/>
<path d="M425.1,617.9 L441.9,621.4 L439.3,632.9 L428.7,630.3 Z" fill="url(#gCone)"/>
<path d="M428.7,633.8 L439.3,635.6 L433.1,657.7 Z" fill="url(#gCone)"/>
<path d="M405.8,575.3 L436.6,575.3" stroke="#8d8d8d" stroke-width="2.6"/>
<g fill="#222"><circle cx="431.0" cy="662.0" r="1.3"/><circle cx="435.5" cy="664.5" r="1.3"/><circle cx="428.5" cy="667.5" r="1.3"/><circle cx="431.5" cy="672.0" r="1.3"/><circle cx="438.0" cy="674.5" r="1.3"/><circle cx="427.3" cy="677.0" r="1.3"/><circle cx="431.0" cy="680.0" r="1.3"/><circle cx="437.0" cy="682.0" r="1.3"/><circle cx="434.0" cy="687.0" r="1.3"/><circle cx="428.5" cy="689.5" r="1.3"/></g>
<circle cx="433.6" cy="709.7" r="21" fill="#b7dcb9"/>
<g fill="#222"><circle cx="439.5" cy="693.5" r="1.3"/><circle cx="428.3" cy="690.0" r="1.3"/><circle cx="429.5" cy="696.0" r="1.3"/><circle cx="436.5" cy="700.5" r="1.3"/><circle cx="431.0" cy="702.0" r="1.3"/><circle cx="438.5" cy="705.0" r="1.3"/><circle cx="428.6" cy="707.0" r="1.3"/><circle cx="434.0" cy="707.5" r="1.3"/><circle cx="440.5" cy="708.5" r="1.3"/><circle cx="434.5" cy="711.5" r="1.3"/><circle cx="429.0" cy="712.5" r="1.3"/><circle cx="441.0" cy="712.0" r="1.3"/><circle cx="432.5" cy="717.0" r="1.3"/><circle cx="429.0" cy="716.5" r="1.3"/><circle cx="436.5" cy="719.0" r="1.3"/><circle cx="433.0" cy="721.0" r="1.3"/><circle cx="437.5" cy="721.5" r="1.3"/><circle cx="428.6" cy="723.5" r="1.3"/><circle cx="432.0" cy="726.5" r="1.3"/><circle cx="435.5" cy="728.0" r="1.3"/><circle cx="427.0" cy="729.0" r="1.3"/><circle cx="431.0" cy="731.5" r="1.3"/></g>
<path d="M398.4,727.8 L511.4,763.2 L507,771.3 L398.4,735.6 Z" fill="url(#gCoolFront)"/>
<path d="M511.4,763.2 L531.3,748.5 L530.8,755.7 L507,771.3 Z" fill="#139fe0"/>
<path d="M398.4,727.8 L419.8,723.3 L531.3,748.5 L511.4,763.2 Z" fill="url(#gCoolTop)"/>
<g fill="#222"><circle cx="426.6" cy="725.3" r="1.3"/><circle cx="428.7" cy="728.9" r="1.3"/><circle cx="429.8" cy="733.4" r="1.3"/><circle cx="430.0" cy="731.6" r="1.3"/><circle cx="431.3" cy="729.0" r="1.3"/><circle cx="432.7" cy="727.1" r="1.3"/><circle cx="434.9" cy="732.8" r="1.3"/><circle cx="435.6" cy="735.0" r="1.3"/><circle cx="438.1" cy="734.7" r="1.3"/><circle cx="439.4" cy="730.8" r="1.3"/><circle cx="441.7" cy="728.9" r="1.3"/><circle cx="442.7" cy="733.3" r="1.3"/><circle cx="442.4" cy="736.7" r="1.3"/><circle cx="444.1" cy="736.3" r="1.3"/><circle cx="445.2" cy="733.2" r="1.3"/><circle cx="447.6" cy="731.7" r="1.3"/><circle cx="448.7" cy="734.7" r="1.3"/><circle cx="448.9" cy="738.8" r="1.3"/><circle cx="451.8" cy="737.2" r="1.3"/><circle cx="452.2" cy="735.2" r="1.3"/><circle cx="453.9" cy="733.4" r="1.3"/><circle cx="456.1" cy="738.3" r="1.3"/><circle cx="456.1" cy="741.7" r="1.3"/><circle cx="458.2" cy="740.3" r="1.3"/><circle cx="460.0" cy="736.3" r="1.3"/><circle cx="462.0" cy="734.9" r="1.3"/><circle cx="462.0" cy="740.3" r="1.3"/><circle cx="462.7" cy="743.4" r="1.3"/><circle cx="463.8" cy="741.7" r="1.3"/><circle cx="466.8" cy="739.0" r="1.3"/><circle cx="468.5" cy="737.3" r="1.3"/><circle cx="469.4" cy="741.9" r="1.3"/><circle cx="470.5" cy="745.3" r="1.3"/><circle cx="472.4" cy="744.3" r="1.3"/><circle cx="472.9" cy="741.2" r="1.3"/><circle cx="473.3" cy="740.3" r="1.3"/><circle cx="476.0" cy="744.8" r="1.3"/><circle cx="477.8" cy="746.8" r="1.3"/><circle cx="478.1" cy="745.6" r="1.3"/><circle cx="478.6" cy="742.6" r="1.3"/><circle cx="480.3" cy="740.7" r="1.3"/><circle cx="481.4" cy="746.2" r="1.3"/><circle cx="482.9" cy="748.6" r="1.3"/><circle cx="484.9" cy="748.0" r="1.3"/><circle cx="485.5" cy="744.5" r="1.3"/><circle cx="488.0" cy="744.6" r="1.3"/><circle cx="490.0" cy="748.4" r="1.3"/><circle cx="490.0" cy="751.0" r="1.3"/><circle cx="491.6" cy="750.0" r="1.3"/><circle cx="494.4" cy="745.7" r="1.3"/><circle cx="493.8" cy="744.9" r="1.3"/><circle cx="495.3" cy="749.3" r="1.3"/><circle cx="497.5" cy="752.5" r="1.3"/><circle cx="497.5" cy="750.7" r="1.3"/><circle cx="499.7" cy="748.7" r="1.3"/><circle cx="502.5" cy="748.0" r="1.3"/><circle cx="502.8" cy="751.6" r="1.3"/><circle cx="504.5" cy="753.9" r="1.3"/><circle cx="506.4" cy="753.6" r="1.3"/><circle cx="507.7" cy="751.2" r="1.3"/><circle cx="507.9" cy="749.2" r="1.3"/><circle cx="508.5" cy="753.6" r="1.3"/><circle cx="509.8" cy="755.9" r="1.3"/><circle cx="511.5" cy="753.9" r="1.3"/><circle cx="513.2" cy="751.2" r="1.3"/><circle cx="513.7" cy="750.5" r="1.3"/><circle cx="515.3" cy="754.8" r="1.3"/><circle cx="516.5" cy="759.9" r="1.3"/><circle cx="519.2" cy="755.8" r="1.3"/><circle cx="519.7" cy="753.9" r="1.3"/><circle cx="521.3" cy="752.3" r="1.3"/><circle cx="523.8" cy="758.4" r="1.3"/></g>
<text x="430.4" y="777" font-size="14" fill="#222" font-weight="bold" font-family="'Liberation Sans', 'Noto Sans CJK SC', sans-serif" textLength="42" lengthAdjust="spacing">冷却器</text>
<circle cx="520.7" cy="784.9" r="20.7" fill="#b7dcb9"/>
<g fill="#222"><circle cx="527.0" cy="757.0" r="1.3"/><circle cx="523.0" cy="761.0" r="1.3"/><circle cx="526.0" cy="765.5" r="1.3"/><circle cx="521.0" cy="767.5" r="1.3"/><circle cx="524.5" cy="771.0" r="1.3"/><circle cx="519.0" cy="773.5" r="1.3"/><circle cx="523.5" cy="776.0" r="1.3"/><circle cx="517.0" cy="778.5" r="1.3"/><circle cx="521.5" cy="781.0" r="1.3"/><circle cx="524.5" cy="784.0" r="1.3"/><circle cx="518.0" cy="785.5" r="1.3"/><circle cx="522.0" cy="788.5" r="1.3"/><circle cx="516.5" cy="790.0" r="1.3"/><circle cx="526.0" cy="790.5" r="1.3"/><circle cx="520.5" cy="793.5" r="1.3"/><circle cx="517.0" cy="796.0" r="1.3"/><circle cx="523.5" cy="797.0" r="1.3"/><circle cx="519.5" cy="800.0" r="1.3"/><circle cx="516.0" cy="802.5" r="1.3"/><circle cx="524.0" cy="802.5" r="1.3"/><circle cx="520.5" cy="805.5" r="1.3"/><circle cx="517.5" cy="808.0" r="1.3"/></g>
<circle cx="531.9" cy="916.2" r="20.8" fill="#8ecbe0"/>
<path d="M493.09999999999997,877.5 L493.09999999999997,886.7 A38.7,12.7 0 0 0 570.5,886.7 L570.5,877.5 Z" fill="url(#gSieveBand)"/><ellipse cx="531.8" cy="877.5" rx="38.7" ry="12.7" fill="url(#gSieveBand)"/><ellipse cx="531.8" cy="877.5" rx="38.1" ry="12.2" fill="none" stroke="#ececec" stroke-width=".9" opacity=".75"/><ellipse cx="531.8" cy="878.0" rx="35.7" ry="10.799999999999999" fill="url(#gSieveIn)"/><g clip-path="url(#cS877)"><ellipse cx="531.8" cy="881.8" rx="32.900000000000006" ry="8.299999999999999" fill="url(#pMesh2)"/></g>
<path d="M493.09999999999997,846.2 L493.09999999999997,856.6 A38.7,13.5 0 0 0 570.5,856.6 L570.5,846.2 Z" fill="url(#gSieveBand)"/><ellipse cx="531.8" cy="846.2" rx="38.7" ry="13.5" fill="url(#gSieveBand)"/><ellipse cx="531.8" cy="846.2" rx="38.1" ry="13.0" fill="none" stroke="#ececec" stroke-width=".9" opacity=".75"/><ellipse cx="531.8" cy="846.7" rx="35.7" ry="11.6" fill="url(#gSieveIn)"/><g clip-path="url(#cS846)"><ellipse cx="531.8" cy="850.5" rx="32.900000000000006" ry="9.1" fill="url(#pMesh2)"/></g>
<path d="M493.09999999999997,816.7 L493.09999999999997,827.3000000000001 A38.7,14.7 0 0 0 570.5,827.3000000000001 L570.5,816.7 Z" fill="url(#gSieveBand)"/><ellipse cx="531.8" cy="816.7" rx="38.7" ry="14.7" fill="url(#gSieveBand)"/><ellipse cx="531.8" cy="816.7" rx="38.1" ry="14.2" fill="none" stroke="#ececec" stroke-width=".9" opacity=".75"/><ellipse cx="531.8" cy="817.2" rx="35.7" ry="12.799999999999999" fill="url(#gSieveIn)"/><g clip-path="url(#cS816)"><ellipse cx="531.8" cy="821.0" rx="32.900000000000006" ry="10.299999999999999" fill="url(#pMesh)"/></g>
<text x="580.2" y="857.3" font-size="14" fill="#222" font-weight="bold" font-family="'Liberation Sans', 'Noto Sans CJK SC', sans-serif" textLength="55.5" lengthAdjust="spacing">筛分装置</text>
<g fill="#222"><circle cx="529.0" cy="903.0" r="1.3"/><circle cx="534.0" cy="904.5" r="1.3"/><circle cx="527.5" cy="908.0" r="1.3"/><circle cx="532.0" cy="909.5" r="1.3"/><circle cx="536.0" cy="911.5" r="1.3"/><circle cx="529.5" cy="913.0" r="1.3"/><circle cx="533.5" cy="915.5" r="1.3"/><circle cx="527.0" cy="917.5" r="1.3"/><circle cx="531.5" cy="919.5" r="1.3"/><circle cx="535.5" cy="921.0" r="1.3"/><circle cx="529.0" cy="923.0" r="1.3"/><circle cx="533.0" cy="925.0" r="1.3"/><circle cx="526.5" cy="926.5" r="1.3"/><circle cx="531.0" cy="928.5" r="1.3"/><circle cx="534.5" cy="930.5" r="1.3"/><circle cx="528.5" cy="932.5" r="1.3"/><circle cx="532.5" cy="935.0" r="1.3"/><circle cx="529.5" cy="938.0" r="1.3"/><circle cx="533.0" cy="940.5" r="1.3"/><circle cx="530.0" cy="943.5" r="1.3"/><circle cx="532.5" cy="947.0" r="1.3"/></g>
<text x="31" y="526" font-size="14" fill="#222" font-weight="bold" font-family="'Liberation Sans', 'Noto Sans CJK SC', sans-serif" textLength="42" lengthAdjust="spacing">雾化塔</text>
<text x="478" y="562" font-size="14" fill="#222" font-weight="bold" font-family="'Liberation Sans', 'Noto Sans CJK SC', sans-serif" textLength="70" lengthAdjust="spacing">产品旋流器</text>
<text x="252" y="817.5" font-size="14" fill="#222" font-weight="bold" font-family="'Liberation Sans', 'Noto Sans CJK SC', sans-serif" textLength="28" lengthAdjust="spacing">输送</text>
<rect x="117.3" y="837.5" width="31.8" height="30.8" fill="url(#gLegend)"/>
<circle cx="133" cy="889.3" r="16.1" fill="#b7dcb9"/>
<circle cx="133" cy="925.7" r="16.1" fill="#8ecbe0"/>
<text x="158.3" y="858" font-size="14" fill="#222" font-family="'Liberation Sans', 'Noto Sans CJK SC', sans-serif" textLength="41.5" lengthAdjust="spacing">水冷却</text>
<text x="158.3" y="894.2" font-size="14" fill="#222" font-family="'Liberation Sans', 'Noto Sans CJK SC', sans-serif" textLength="84" lengthAdjust="spacing">激光衍射技术</text>
<text x="247.6" y="894.2" font-size="14.6" fill="#1f1f1f" stroke="#1f1f1f" stroke-width="0.3" text-anchor="start" font-weight="normal" textLength="51.6" lengthAdjust="spacingAndGlyphs" >(Insitec)</text>
<text x="158.3" y="930.6" font-size="14" fill="#222" font-family="'Liberation Sans', 'Noto Sans CJK SC', sans-serif" textLength="112" lengthAdjust="spacing">空间滤波测速技术</text>
<text x="274.6" y="930.6" font-size="14.6" fill="#1f1f1f" stroke="#1f1f1f" stroke-width="0.3" text-anchor="start" font-weight="normal" textLength="60" lengthAdjust="spacingAndGlyphs" >(Parsum)</text>
</svg>
</body></html>
